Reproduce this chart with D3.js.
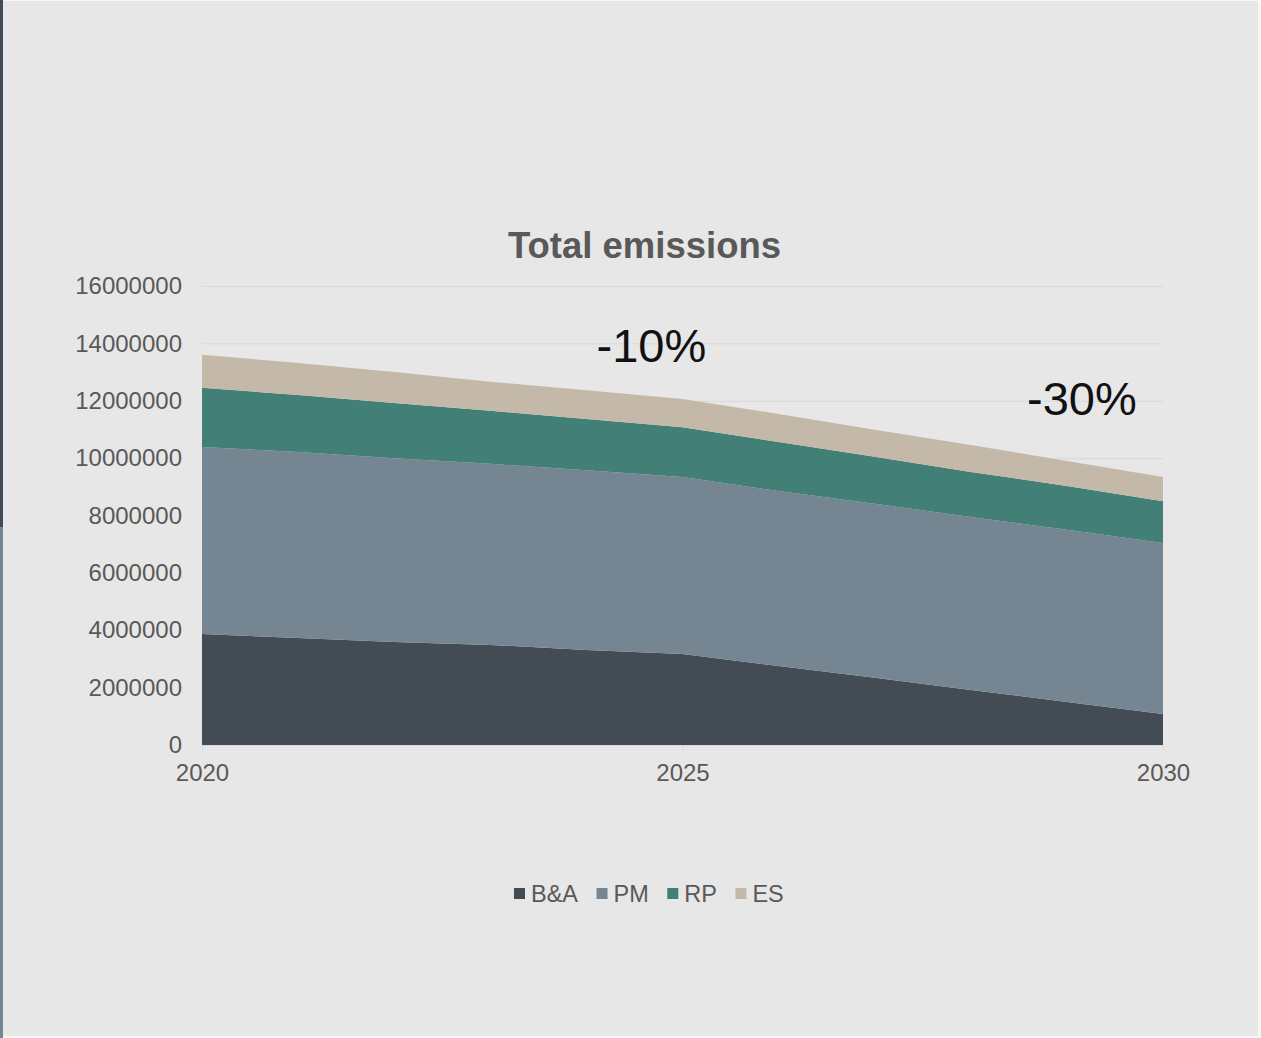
<!DOCTYPE html>
<html>
<head>
<meta charset="utf-8">
<script src="https://cdn.jsdelivr.net/npm/d3@7"></script>
<style>
  html, body { margin: 0; padding: 0; background: #f7f7f7; }
  svg { display: block; }
  text { font-family: "Liberation Sans", Arial, sans-serif; }
</style>
</head>
<body>
<svg id="chart" width="1261" height="1038"></svg>
<script>
// ---- data ----
const years = [2020, 2021, 2022, 2023, 2024, 2025, 2026, 2027, 2028, 2029, 2030];
const seriesNames = ["B&A", "PM", "RP", "ES"];
const valuesBA = [3870000, 3730000, 3590000, 3490000, 3310000, 3170000, 2750000, 2340000, 1920000, 1500000, 1080000];
const valuesPM = [6520000, 6480000, 6410000, 6310000, 6270000, 6170000, 6100000, 6070000, 6030000, 6000000, 5960000];
const valuesRP = [2060000, 1990000, 1920000, 1850000, 1780000, 1740000, 1710000, 1640000, 1570000, 1530000, 1460000];
const valuesES = [1150000, 1120000, 1080000, 1010000, 1010000, 980000, 980000, 940000, 940000, 870000, 840000];
const yTicks = [0, 2000000, 4000000, 6000000, 8000000, 10000000, 12000000, 14000000, 16000000];
const xTickLabels = [2020, 2025, 2030];
const annotations = [{ label: "-10%", year: 2025 }, { label: "-30%", year: 2030 }];
const chartTitle = "Total emissions";

const colors = { "B&A": "#434b55", "PM": "#758592", "RP": "#417f77", "ES": "#c4b8a8" };

// ---- table ----
const table = years.map((yr, i) => ({
  year: yr, "B&A": valuesBA[i], "PM": valuesPM[i], "RP": valuesRP[i], "ES": valuesES[i]
}));

const svg = d3.select("#chart");

// page frame
svg.append("rect").attr("x", 3).attr("y", 1).attr("width", 1255).attr("height", 1035).attr("fill", "#e7e7e7");
svg.append("rect").attr("x", 0).attr("y", 0).attr("width", 3).attr("height", 527).attr("fill", "#434b55");
svg.append("rect").attr("x", 0).attr("y", 527).attr("width", 3).attr("height", 511).attr("fill", "#758592");

const pLeft = 202, pRight = 1163, pTop = 286, pBottom = 745;

const x = d3.scaleLinear().domain([2020, 2030]).range([pLeft, pRight]);
const y = d3.scaleLinear().domain([0, 16000000]).range([pBottom, pTop]);

// gridlines
const grid = svg.append("g").attr("transform", `translate(${pLeft},0)`)
  .call(d3.axisLeft(y).tickValues(yTicks).tickSize(-(pRight - pLeft)).tickFormat(""));
grid.select(".domain").remove();
grid.selectAll("line").attr("stroke", "#d9d9d9").attr("stroke-width", 1);

// stacked areas
const stack = d3.stack().keys(seriesNames);
const layers = stack(table);
const area = d3.area()
  .x(d => x(d.data.year))
  .y0(d => y(d[0]))
  .y1(d => y(d[1]))
  .curve(d3.curveLinear);

svg.append("g").selectAll("path").data(layers).join("path")
  .attr("d", area)
  .attr("fill", d => colors[d.key]);

// x axis
const xAxis = svg.append("g").attr("transform", `translate(0,${pBottom})`)
  .call(d3.axisBottom(x).tickValues(xTickLabels).tickFormat(d3.format("d")).tickSize(5).tickPadding(14));
xAxis.select(".domain").attr("stroke", "#d9d9d9");
xAxis.selectAll("line").attr("stroke", "#d9d9d9");
xAxis.selectAll("text").attr("fill", "#595959").attr("font-size", 24)
  .attr("font-family", "'Liberation Sans', Arial, sans-serif");

// y axis labels
const yAxis = svg.append("g").attr("transform", `translate(${pLeft},0)`)
  .call(d3.axisLeft(y).tickValues(yTicks).tickFormat(d3.format("d")).tickSize(0).tickPadding(20));
yAxis.select(".domain").remove();
yAxis.selectAll("text").attr("fill", "#595959").attr("font-size", 24)
  .attr("font-family", "'Liberation Sans', Arial, sans-serif");

// title
svg.append("text").attr("x", 644.5).attr("y", 258).attr("text-anchor", "middle")
  .attr("font-size", 36.5).attr("font-weight", "bold").attr("fill", "#595959").text(chartTitle);

// annotations
const annOffsets = { "-10%": { dx: -86, y: 362 }, "-30%": { dx: -136, y: 415 } };
annotations.forEach(a => {
  svg.append("text").attr("x", x(a.year) + annOffsets[a.label].dx).attr("y", annOffsets[a.label].y)
    .attr("font-size", 47).attr("fill", "#111").text(a.label);
});

// legend
const legend = svg.append("g").attr("transform", "translate(514,893)");
let lx = 0;
seriesNames.forEach(name => {
  legend.append("rect").attr("x", lx).attr("y", -5).attr("width", 11).attr("height", 11).attr("fill", colors[name]);
  const t = legend.append("text").attr("x", lx + 17).attr("y", 8.5).attr("font-size", 23.5).attr("fill", "#595959").text(name);
  lx += 17 + t.node().getComputedTextLength() + 18.5;
});
</script>
</body>
</html>
